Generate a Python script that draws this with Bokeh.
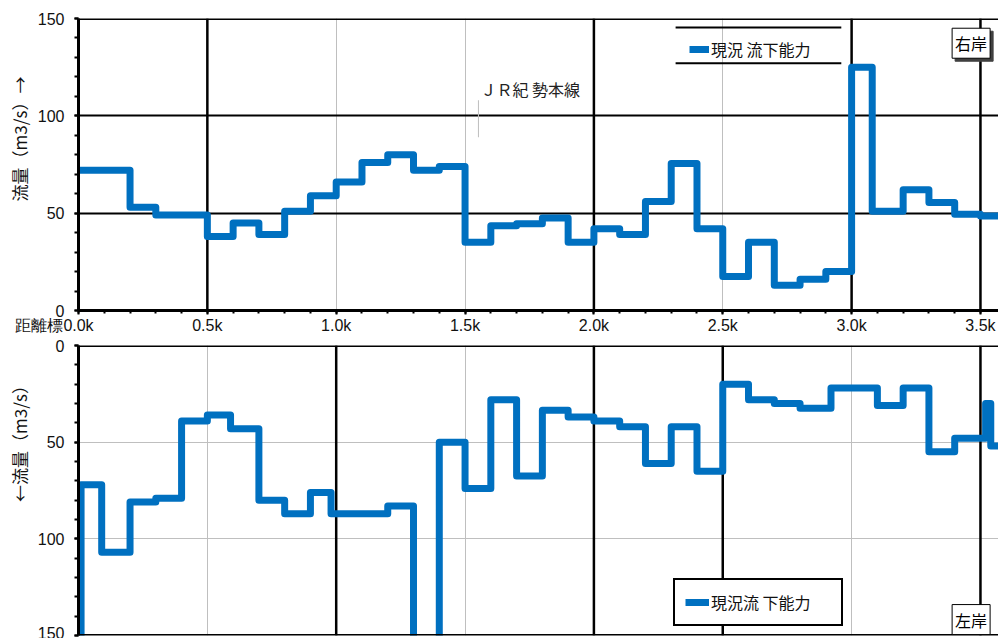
from bokeh.plotting import figure
from bokeh.layouts import column
from bokeh.models import (Range1d, FixedTicker, CustomJSTickFormatter, Span, Label,
                          Legend, LegendItem, BoxAnnotation)
from bokeh.embed import file_html
from bokeh.resources import INLINE

# ---------------- data (distance in km, discharge capacity in m3/s) ----------------
right_km = [0.0, 0.2, 0.3, 0.5, 0.6, 0.7, 0.8, 0.9, 1.0, 1.1, 1.2, 1.3, 1.4, 1.5, 1.6,
            1.7, 1.8, 1.9, 2.0, 2.1, 2.2, 2.3, 2.4, 2.5, 2.6, 2.7, 2.8, 2.9, 3.0, 3.08,
            3.2, 3.3, 3.4, 3.5, 3.6]
right_q = [72, 53, 49, 38, 45, 39, 51, 59, 66, 76, 80, 72, 74, 35, 43.5,
           44.5, 47.5, 35, 42, 39, 56, 75.5, 42, 17.5, 35, 13, 16, 20, 125, 51,
           62, 55.5, 49.5, 48.5, 48.5]

left_km = [0.0, 0.01, 0.09, 0.2, 0.3, 0.4, 0.5, 0.59, 0.7, 0.8, 0.9, 0.98, 1.2, 1.3,
           1.4, 1.5, 1.6, 1.7, 1.8, 1.9, 2.0, 2.1, 2.2, 2.3, 2.4, 2.5, 2.6, 2.7, 2.8,
           2.92, 3.1, 3.2, 3.3, 3.4, 3.52, 3.54, 3.6]
left_q = [170, 72, 107, 81, 79, 39, 36, 43, 80, 87, 76, 87, 83, 170,
          50, 74, 28, 67.5, 33.5, 37, 39, 42, 61, 42, 65, 20, 28, 30, 32.5,
          22, 31, 22, 55, 48, 30, 52, 52]

x_ticks = [0.0, 0.5, 1.0, 1.5, 2.0, 2.5, 3.0, 3.5]
x_minor = [round(0.1 * i, 1) for i in range(36)]
y_ticks = [0, 50, 100, 150]
y_minor = list(range(0, 151, 10))
right_markers = [0.5, 2.0, 3.0, 3.5]
left_markers = [1.0, 2.0, 2.5, 3.5]
jr_km = 1.552
jr_text = "ＪＲ紀 勢本線"
legend_right = "現況 流下能力"
legend_left = "現況流 下能力"
bank_right = "右岸"
bank_left = "左岸"
ylabel_right = "\u3000\u3000\u3000流量（m3/s）→"
ylabel_left = "\u3000\u3000\u3000\u3000\u3000\u3000←流量（m3/s）"
dist_label = "距離標"

BLUE = "#0070C0"
CJK = "Noto Sans CJK JP"
NUM = "Liberation Sans"
X_END = 3.57


def base_style(p, ylabel):
    p.outline_line_color = None
    p.background_fill_color = "white"
    p.border_fill_color = "white"
    for ax in p.yaxis:
        ax.ticker = FixedTicker(ticks=y_ticks, minor_ticks=y_minor)
        ax.axis_line_width = 3
        ax.axis_line_color = "black"
        ax.major_tick_out = 4
        ax.major_tick_in = 0
        ax.minor_tick_out = 4
        ax.minor_tick_in = 0
        ax.major_tick_line_width = 2
        ax.minor_tick_line_width = 2
        ax.major_label_text_font = NUM
        ax.major_label_text_font_size = "16px"
        ax.major_label_text_color = "#111111"
        ax.major_label_standoff = 10
        ax.axis_label = ylabel
        ax.axis_label_text_font = CJK
        ax.axis_label_text_font_size = "17px"
        ax.axis_label_text_font_style = "normal"
        ax.axis_label_text_color = "#111111"
        ax.axis_label_standoff = 3


# ---------------- upper panel (right bank) ----------------
p1 = figure(width=998, height=336, x_range=Range1d(0, X_END), y_range=Range1d(0, 150),
            output_backend="svg", toolbar_location=None,
            min_border_left=78, min_border_right=0, min_border_top=18, min_border_bottom=24)
base_style(p1, ylabel_right)
xa = p1.xaxis[0]
xa.ticker = FixedTicker(ticks=x_ticks, minor_ticks=x_minor)
xa.formatter = CustomJSTickFormatter(
    args=dict(prefix=dist_label),
    code="var s = tick.toFixed(1) + 'k'; if (Math.abs(tick) < 1e-9) { return prefix + s + '\u3000\u3000\u3000'; } return s;")
xa.axis_line_width = 3
xa.major_tick_out = 4
xa.major_tick_in = 0
xa.minor_tick_out = 3
xa.minor_tick_in = 0
xa.major_tick_line_width = 2
xa.minor_tick_line_width = 2
xa.major_label_text_font = NUM
xa.major_label_text_font_size = "16px"
xa.major_label_text_color = "#111111"
xa.major_label_standoff = 2

p1.xgrid.grid_line_color = "#BFBFBF"
p1.xgrid.grid_line_width = 1
p1.ygrid.grid_line_color = "black"
p1.ygrid.grid_line_width = 2

for m in right_markers:
    p1.add_layout(Span(location=m, dimension="height", line_color="black",
                       line_width=2.5, level="underlay"))
p1.add_layout(Span(location=150, dimension="width", line_color="black", line_width=3))

r1 = p1.step(right_km, right_q, mode="after", line_color=BLUE, line_width=7,
             line_join="round")

# JR annotation
p1.add_layout(BoxAnnotation(left=jr_km - 0.002, right=jr_km + 0.002, bottom=89, top=108,
                            fill_color="#BFBFBF", fill_alpha=1, line_color=None))
p1.add_layout(Label(x=jr_km + 0.008, y=114, text=jr_text, text_align="left",
                    text_baseline="middle", text_font=CJK, text_font_size="16px",
                    text_color="#222222"))

# legend (top / bottom rules only)
leg1 = Legend(items=[LegendItem(label=legend_right, renderers=[r1])], location=(611, 249),
              border_line_color=None, background_fill_alpha=0,
              label_text_font=CJK, label_text_font_size="16px", label_text_color="#111111",
              glyph_width=20, glyph_height=20, label_standoff=2, padding=8,
              label_width=114, label_height=20, margin=0, spacing=0)
p1.add_layout(leg1)
p1.add_layout(BoxAnnotation(left=2.317, right=2.96, bottom=144.9, top=145.9,
                            fill_color="black", fill_alpha=1, line_color=None))
p1.add_layout(BoxAnnotation(left=2.317, right=2.96, bottom=126.5, top=127.5,
                            fill_color="black", fill_alpha=1, line_color=None))

# bank label with shadow
p1.add_layout(Label(x=3.39, y=145, x_offset=3, y_offset=-3, text=bank_right,
                    text_align="left", text_baseline="top", text_font=CJK,
                    text_font_size="16px", text_color="#404040",
                    background_fill_color="#404040", border_line_color="#404040", padding=3))
p1.add_layout(Label(x=3.39, y=145, text=bank_right, text_align="left", text_baseline="top",
                    text_font=CJK, text_font_size="16px", text_color="black",
                    background_fill_color="white", border_line_color="black",
                    border_line_width=1, padding=3))

# ---------------- lower panel (left bank, inverted) ----------------
p2 = figure(width=998, height=302, x_range=p1.x_range, y_range=Range1d(150, 0),
            output_backend="svg", toolbar_location=None, x_axis_location=None,
            min_border_left=78, min_border_right=0, min_border_top=9, min_border_bottom=3)
base_style(p2, ylabel_left)
p2.xgrid.ticker = FixedTicker(ticks=x_ticks)
p2.xgrid.grid_line_color = "#BFBFBF"
p2.xgrid.grid_line_width = 1
p2.ygrid.grid_line_color = "#BFBFBF"
p2.ygrid.grid_line_width = 1

for m in left_markers:
    p2.add_layout(Span(location=m, dimension="height", line_color="black",
                       line_width=2.5, level="underlay"))
p2.add_layout(Span(location=0, dimension="width", line_color="black", line_width=3))
p2.add_layout(Span(location=150, dimension="width", line_color="black", line_width=3))

r2 = p2.step(left_km, left_q, mode="after", line_color=BLUE, line_width=7,
             line_join="round")

leg2 = Legend(items=[LegendItem(label=legend_left, renderers=[r2])], location=(595, 9),
              border_line_color="black", border_line_width=2, border_line_alpha=1,
              background_fill_color="white", background_fill_alpha=1,
              label_text_font=CJK, label_text_font_size="16px", label_text_color="#111111",
              glyph_width=24, glyph_height=18, label_standoff=2, padding=10,
              label_width=120, label_height=18, margin=0, spacing=0)
p2.add_layout(leg2)

p2.add_layout(Label(x=3.39, y=134, text=bank_left, text_align="left", text_baseline="top",
                    text_font=CJK, text_font_size="16px", text_color="black",
                    background_fill_color="white", border_line_color="black",
                    border_line_width=1, padding=3))

layout = column(p1, p2, spacing=0)
open("out.html", "w").write(file_html(layout, INLINE))
